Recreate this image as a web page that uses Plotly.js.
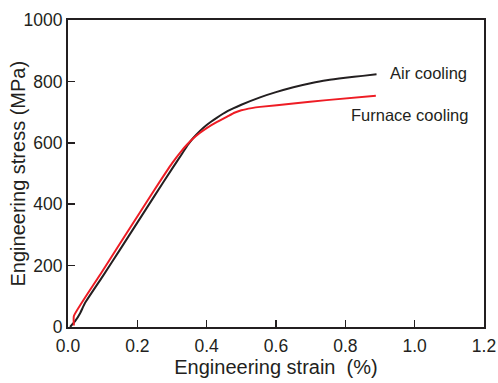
<!DOCTYPE html>
<html>
<head>
<meta charset="utf-8">
<script src="https://cdn.plot.ly/plotly-3.0.1.min.js"></script>
<style>html,body{margin:0;padding:0;background:#fff;}#chart{width:498px;height:383px;}</style>
</head>
<body>
<div id="chart"></div>
<script>
// Air cooling curve (strain %, stress MPa)
const airStrain = [0.006, 0.02, 0.035, 0.049, 0.10, 0.15, 0.20, 0.25, 0.30, 0.33, 0.345, 0.36, 0.38, 0.40, 0.43, 0.46, 0.50, 0.554, 0.60, 0.65, 0.70, 0.746, 0.80, 0.85, 0.89];
const airStress = [0, 18, 45, 78, 165, 252, 340, 428, 515, 566, 592, 614, 638, 658, 682, 703, 724, 748, 765, 781, 794, 804, 812, 818, 823];
// Furnace cooling curve
const furStrain = [0.017, 0.017, 0.10, 0.15, 0.20, 0.25, 0.30, 0.33, 0.345, 0.36, 0.38, 0.40, 0.43, 0.46, 0.48, 0.50, 0.53, 0.554, 0.65, 0.746, 0.888];
const furStress = [5, 36, 183, 272, 360, 448, 533, 577, 596, 613, 632, 648, 668, 686, 698, 706, 713, 717, 728, 739, 753];
const seriesNames = ["Air cooling", "Furnace cooling"];
const xTicks = [0, 0.2, 0.4, 0.6, 0.8, 1.0, 1.2];
const xTickText = ["0.0", "0.2", "0.4", "0.6", "0.8", "1.0", "1.2"];
const yTicks = [0, 200, 400, 600, 800, 1000];
const xTitle = "Engineering strain  (%)";
const yTitle = "Engineering stress (MPa)";

const FONT = "Liberation Sans, Arial, sans-serif";
const INK = "#231f20";
const traces = [
  {x: airStrain, y: airStress, mode: "lines", name: seriesNames[0], line: {color: INK, width: 2, shape: "spline", smoothing: 0.4}},
  {x: furStrain, y: furStress, mode: "lines", name: seriesNames[1], line: {color: "#ee1c24", width: 2, shape: "spline", smoothing: 0.4}}
];
const axisCommon = {
  showline: true, linecolor: INK, linewidth: 2, mirror: true,
  ticks: "inside", ticklen: 7, tickwidth: 1.5, tickcolor: INK,
  showgrid: false, zeroline: false,
  tickfont: {family: FONT, size: 17.5, color: INK}
};
const layout = {
  width: 498, height: 383,
  margin: {l: 68, r: 14, t: 20, b: 56},
  paper_bgcolor: "#fff", plot_bgcolor: "#fff",
  showlegend: false,
  xaxis: Object.assign({}, axisCommon, {
    range: [0, 1.2], tickvals: xTicks, ticktext: xTickText, ticklabelstandoff: 2,
    title: {text: xTitle, font: {family: FONT, size: 20, color: INK}, standoff: 4}
  }),
  yaxis: Object.assign({}, axisCommon, {
    range: [0, 1000], tickvals: yTicks
  }),
  annotations: [
    {x: -0.1202, y: 0.5, xref: "paper", yref: "paper", text: yTitle, textangle: -90, showarrow: false, xanchor: "center", yanchor: "middle", font: {family: FONT, size: 20, color: INK}},
    {x: 0.923, y: 827, xref: "x", yref: "y", text: seriesNames[0], showarrow: false, xanchor: "left", yanchor: "middle", font: {family: FONT, size: 16.5, color: INK}},
    {x: 0.81, y: 690, xref: "x", yref: "y", text: seriesNames[1], showarrow: false, xanchor: "left", yanchor: "middle", font: {family: FONT, size: 16.5, color: INK}}
  ]
};
Plotly.newPlot("chart", traces, layout, {displayModeBar: false, staticPlot: true});
</script>
</body>
</html>
